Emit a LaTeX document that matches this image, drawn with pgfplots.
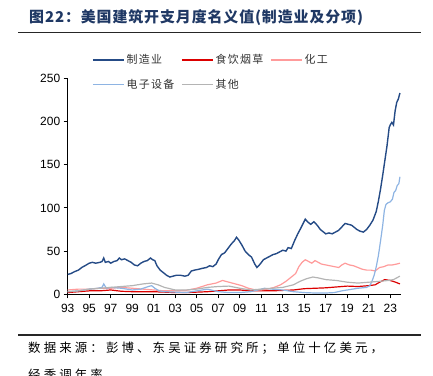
\documentclass[border=0pt]{standalone}
\usepackage{pgfplots}
\pgfplotsset{compat=1.18}
\usepackage{fontspec}
\setmainfont{Liberation Sans}
\newfontfamily\cjktitle[LetterSpace=6]{Noto Sans CJK SC}
\newfontfamily\cjkleg[LetterSpace=12]{Noto Sans CJK SC}
\newfontfamily\cjkfoot[LetterSpace=25]{Noto Sans CJK SC}
\definecolor{manu}{RGB}{37,75,134}
\definecolor{food}{RGB}{220,0,0}
\definecolor{chem}{RGB}{255,155,155}
\definecolor{elec}{RGB}{142,180,227}
\definecolor{oth}{RGB}{180,180,180}
\definecolor{titlec}{RGB}{31,56,100}
\begin{document}
\begin{tikzpicture}
\path[use as bounding box] (0,0) rectangle (433bp,376bp);
\clip (0,0) rectangle (433bp,376bp);
% title and rules
\node[anchor=west, text=titlec, font=\cjktitle\bfseries\fontsize{15}{15}\selectfont, inner sep=0pt] at (29bp,358.5bp) {图22：美国建筑开支月度名义值(制造业及分项)};
\draw[line width=1.5bp, black!85] (18bp,343.7bp) -- (421bp,343.7bp);
\draw[line width=1.5bp, black!85] (18bp,41bp) -- (421bp,41bp);
\node[anchor=west, font=\cjkfoot\fontsize{12.5}{12.5}\selectfont, inner sep=0pt] at (28bp,28bp) {数据来源：彭博、东吴证券研究所；单位十亿美元，};
\node[anchor=west, font=\cjkfoot\fontsize{12.5}{12.5}\selectfont, inner sep=0pt] at (28bp,1bp) {经季调年率};
\begin{axis}[
  scale only axis,
  width=333.3bp, height=216bp,
  at={(67.7bp,81.7bp)}, anchor=south west,
  xmin=1993, xmax=2024, ymin=0, ymax=250,
  axis x line*=bottom, axis y line*=left,
  axis line style={-, black, line width=0.8bp},
  xtick={1993,1995,...,2023},
  xticklabels={93,95,97,99,01,03,05,07,09,11,13,15,17,19,21,23},
  ytick={0,50,100,150,200,250},
  tick align=outside, major tick length=4bp,
  tick style={black, line width=0.8bp},
  ticklabel style={font=\fontsize{12}{12}\selectfont, text=black},
  xticklabel style={yshift=-2bp},
  /pgf/number format/assume math mode=true,
  clip=false,
  legend columns=3,
  legend cell align=left,
  legend image code/.code={\draw[#1] (0bp,0bp) -- (31bp,0bp);},
  legend style={at={(0.073,1.12)}, anchor=north west, draw=none, fill=none,
    font=\cjkleg\fontsize{11}{11}\selectfont, text=black!80,
    row sep=10bp, inner sep=0pt,
    /tikz/every even column/.append style={column sep=5bp},
    /tikz/every odd column/.append style={column sep=0bp}},
]
\addplot[manu, line width=1.4bp] coordinates {
(1993.0,23) (1993.3,24) (1993.6,26) (1994.0,28) (1994.3,31) (1994.6,33) (1995.0,36) (1995.3,37) (1995.6,36)
(1996.0,37) (1996.2,38) (1996.35,42) (1996.5,37) (1996.8,38) (1997.0,36) (1997.3,38) (1997.6,39) (1997.8,42)
(1998.0,40) (1998.3,41) (1998.6,39) (1998.9,37) (1999.2,34) (1999.5,33) (1999.8,36) (2000.1,38) (2000.4,39)
(2000.7,42) (2000.9,40) (2001.1,39) (2001.3,33) (2001.6,28) (2001.9,25) (2002.2,22) (2002.5,20) (2002.8,21)
(2003.1,22) (2003.5,22) (2003.9,21) (2004.2,22) (2004.5,27) (2004.8,28) (2005.2,29) (2005.5,30) (2005.9,31)
(2006.2,33) (2006.5,32) (2006.8,35) (2007.0,40) (2007.3,46) (2007.6,48) (2007.9,53) (2008.2,58) (2008.5,62)
(2008.7,66) (2008.9,63) (2009.2,57) (2009.5,50) (2009.8,46) (2010.1,43) (2010.4,35) (2010.6,31) (2010.9,35)
(2011.2,40) (2011.5,42) (2011.8,44) (2012.1,46) (2012.4,47) (2012.7,49) (2013.0,51) (2013.3,50) (2013.5,54)
(2013.8,53) (2014.1,62) (2014.4,70) (2014.7,77) (2014.9,82) (2015.1,87) (2015.3,84) (2015.6,81) (2015.9,84)
(2016.2,80) (2016.5,75) (2016.8,72) (2017.0,70) (2017.3,71) (2017.6,70) (2017.9,72) (2018.2,74) (2018.5,78)
(2018.8,82) (2019.1,81) (2019.4,80) (2019.7,77) (2019.9,75) (2020.2,73) (2020.5,72) (2020.8,75) (2021.1,80)
(2021.4,86) (2021.7,96) (2021.9,108) (2022.1,122) (2022.3,138) (2022.5,155) (2022.7,172) (2022.9,193)
(2023.0,196) (2023.15,199) (2023.3,196) (2023.45,212) (2023.6,222) (2023.75,226) (2023.9,233)
};
\addlegendentry{制造业}
\addplot[food, line width=1.2bp] coordinates {
(1993,2) (1994,3) (1995,4) (1996,4) (1997,5) (1998,3.5) (1999,3) (2000,3) (2001,3) (2002,2.5) (2003,2)
(2004,2) (2005,2.5) (2006,3) (2007,4) (2008,5) (2009,5) (2010,4) (2011,4) (2012,4) (2013,4.5) (2014,5)
(2015,6.5) (2016,7) (2017,7.5) (2018,8.5) (2019,9.5) (2020,9) (2021,10) (2021.6,11) (2022,14) (2022.5,17)
(2023,16) (2023.5,14) (2023.9,12)
};
\addlegendentry{食饮烟草}
\addplot[chem, line width=1.2bp] coordinates {
(1993,5) (1994,6) (1995,6) (1996,7) (1997,7) (1998,8) (1999,7) (2000,6) (2001,5) (2002,4) (2003,4)
(2004,4.5) (2005,7) (2006,11) (2006.8,13) (2007.4,16) (2008,14) (2008.6,12) (2009.2,10) (2009.8,7)
(2010.5,5) (2011,5) (2011.6,6) (2012.2,8) (2012.8,11) (2013.3,15) (2013.8,20) (2014.2,24) (2014.5,32)
(2014.8,37) (2015.1,40) (2015.4,38) (2015.7,36) (2016,39) (2016.3,37) (2016.6,35) (2017,34) (2017.4,33)
(2017.8,32) (2018.2,31) (2018.5,34) (2018.8,36) (2019.2,34) (2019.6,33) (2020,31) (2020.4,29) (2020.8,28)
(2021.2,28) (2021.6,27) (2022,31) (2022.4,32) (2022.8,34) (2023.2,34) (2023.6,35) (2023.9,36)
};
\addlegendentry{化工}
\addplot[elec, line width=1.2bp] coordinates {
(1993.0,3) (1994,4) (1995,6) (1995.8,7) (1996.2,8) (1996.35,12) (1996.6,7) (1997,8) (1998,7) (1999,5)
(1999.8,6) (2000.5,9) (2000.8,10) (2001.1,7) (2001.5,4) (2002,3) (2003,2.5) (2004,2) (2005,4) (2006,6)
(2007,3) (2008,2) (2009,2) (2010,3) (2010.7,5) (2011.3,7) (2012,6) (2013,5) (2014,3) (2015,2) (2016,1.5)
(2017,1.5) (2017.8,2) (2018.5,4) (2019,5) (2019.5,6) (2020,7) (2020.8,8) (2021.1,10) (2021.3,15)
(2021.5,22) (2021.7,32) (2021.9,45) (2022.1,62) (2022.3,80) (2022.45,97) (2022.6,104) (2022.8,106)
(2023.0,107) (2023.2,110) (2023.35,118) (2023.5,120) (2023.65,126) (2023.8,128) (2023.9,136)
};
\addlegendentry{电子设备}
\addplot[oth, line width=1.2bp] coordinates {
(1993,3) (1994,4) (1995,6) (1996,7) (1997,8) (1998,9) (1999,10) (2000,12) (2000.8,13) (2001.4,11)
(2002,8) (2003,5) (2004,5) (2005,6) (2006,8) (2007,9) (2008,9.5) (2009,7) (2010,5) (2011,6) (2012,7)
(2013,8) (2014,11) (2014.6,15) (2015.2,18) (2015.8,20) (2016.3,19) (2017,17) (2018,16) (2019,14)
(2020,13) (2021,14) (2022,15) (2022.8,16) (2023.3,17) (2023.9,21)
};
\addlegendentry{其他}
\end{axis}
\end{tikzpicture}
\end{document}
